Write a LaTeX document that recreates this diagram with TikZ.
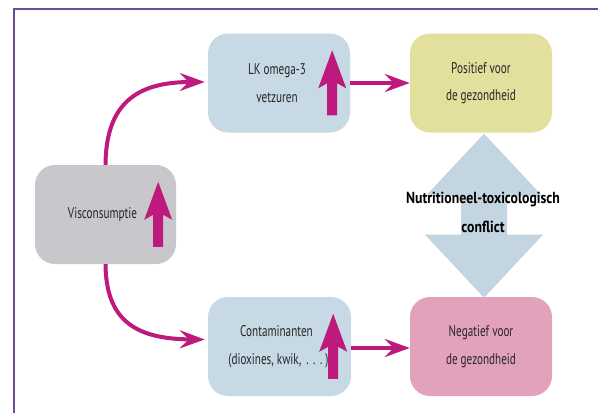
\documentclass[tikz,border=0pt]{standalone}
\usepackage{fontspec}
\newfontfamily\cond[FakeStretch=0.72]{PT Sans}
\newfontfamily\condb[FakeStretch=0.86]{PT Sans Bold}
\usetikzlibrary{arrows.meta,calc}
\definecolor{mag}{HTML}{BE1A7E}
\definecolor{framec}{HTML}{6B4C9A}
\definecolor{greybox}{HTML}{C8C8CC}
\definecolor{bluebox}{HTML}{C6D9E4}
\definecolor{yelbox}{HTML}{E3E09E}
\definecolor{pinkbox}{HTML}{E2A2BC}
\definecolor{dblarrow}{HTML}{C3D5E0}
\tikzset{
  box/.style={rounded corners=20pt, minimum width=142pt, minimum height=99pt,
    inner sep=0pt, align=center, text=black!85,
    font=\cond\fontsize{15.5}{27.5}\selectfont},
  conn/.style={draw=mag, line width=4pt,
    -{Stealth[length=25pt,width=18pt,inset=9pt]}},
  uparrow/.pic={\fill[mag] (0,0) -- (14,38) -- (5,33) -- (5,65) -- (-5,65)
    -- (-5,33) -- (-14,38) -- cycle;}
}
\begin{document}
\begin{tikzpicture}[x=1pt,y=-1pt]
\useasboundingbox (0,0) rectangle (598,413);
\fill[white] (0,0) rectangle (598,413);
% frame
\draw[framec, line width=2pt] (14,413) -- (14,9) -- (598,9);
% boxes
\node[box, fill=greybox, minimum width=141pt] (vis) at (105.5,214.5) {Visconsumptie\hspace*{6pt}};
\node[box, fill=bluebox] (lk) at (279,83) {LK omega-3\hspace*{4pt}\\vetzuren\hspace*{4pt}};
\node[box, fill=yelbox] (pos) at (481,83) {Positief voor\\de gezondheid};
\node[box, fill=bluebox, minimum width=143pt] (cont) at (279.5,346.5) {Contaminanten\hspace*{6pt}\\(dioxines, kwik,\hspace{5pt}.\hspace{4.5pt}.\hspace{4.5pt}.\hspace{3pt})\hspace*{2pt}};
\node[box, fill=pinkbox] (neg) at (481,346.5) {Negatief voor\\de gezondheid};
% up arrows inside boxes
\pic at ($(vis.north east)+(-18,17)$) {uparrow};
\pic at ($(lk.north east)+(-18,17)$) {uparrow};
\pic at ($(cont.north east)+(-18,17)$) {uparrow};
% connectors
\coordinate (lkin) at ($(lk.west)+(-3,-1)$);
\coordinate (contin) at ($(cont.west)+(-3,-7)$);
\draw[conn] (vis.north) .. controls (106,105) and (135,82) .. (lkin);
\draw[conn] (vis.south) .. controls (106,320) and (135,339) .. (contin);
\draw[conn] (lk.east) -- (pos.west);
\draw[conn] (cont.east |- 0,348) -- (neg.west |- 0,348);
% double arrow (conflict)
\coordinate (ctop) at ($(pos.south)+(3,1)$);
\fill[dblarrow] (ctop) -- ++(59,63) -- ++(-36,0) -- ++(0,38) -- ++(36,0)
  -- ++(-59,63) -- ++(-59,-63) -- ++(36,0) -- ++(0,-38) -- ++(-36,0) -- cycle;
\node[align=center, font=\condb\fontsize{16}{29}\selectfont] (conf) at (483,212.5)
  {Nutritioneel-toxicologisch\\conflict};
\end{tikzpicture}
\end{document}
